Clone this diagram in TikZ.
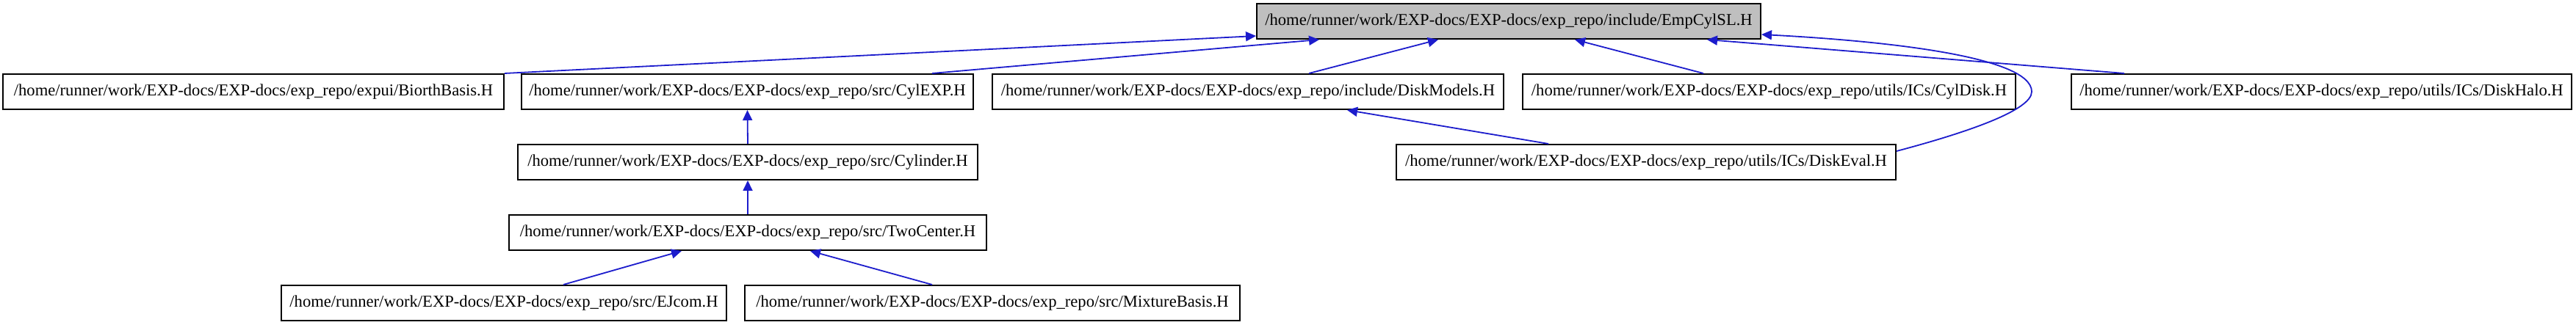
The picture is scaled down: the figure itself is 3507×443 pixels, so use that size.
\documentclass[tikz,border=0pt]{standalone}
\usepackage{fontspec}
\setmainfont{Liberation Serif}
\usetikzlibrary{arrows.meta}
\definecolor{edgeblue}{RGB}{28, 28, 204}
\definecolor{focusgray}{RGB}{191, 191, 191}

\begin{document}
\begin{tikzpicture}[x=0.5pt, y=-0.5pt,
	filebox/.style={draw=black, line width=1pt, fill=white, minimum height=24pt, inner sep=0pt, font=\fontsize{11.3}{13.5}\selectfont},
	incl/.style={draw=edgeblue, line width=0.9pt, -{Triangle[length=7pt, width=6.5pt, fill=edgeblue]}}]
	\useasboundingbox (0,0) rectangle (3507,443);
	% Grafo de inclusión de EmpCylSL.H
	\node[filebox, fill=focusgray, minimum width=343pt] (empcylsl) at (2054,29) {/home/runner/work/EXP-docs/EXP-docs/exp\_repo/include/EmpCylSL.H};
	\node[filebox, minimum width=341pt] (biorth) at (345,125) {/home/runner/work/EXP-docs/EXP-docs/exp\_repo/expui/BiorthBasis.H};
	\node[filebox, minimum width=307.5pt] (cylexp) at (1017.5,125) {/home/runner/work/EXP-docs/EXP-docs/exp\_repo/src/CylEXP.H};
	\node[filebox, minimum width=348pt] (diskmodels) at (1699,125) {/home/runner/work/EXP-docs/EXP-docs/exp\_repo/include/DiskModels.H};
	\node[filebox, minimum width=335.5pt] (cyldisk) at (2408.5,125) {/home/runner/work/EXP-docs/EXP-docs/exp\_repo/utils/ICs/CylDisk.H};
	\node[filebox, minimum width=340.5pt] (diskhalo) at (3160.5,125) {/home/runner/work/EXP-docs/EXP-docs/exp\_repo/utils/ICs/DiskHalo.H};
	\node[filebox, minimum width=313pt] (cylinder) at (1018,221) {/home/runner/work/EXP-docs/EXP-docs/exp\_repo/src/Cylinder.H};
	\node[filebox, minimum width=340pt] (diskeval) at (2241,221) {/home/runner/work/EXP-docs/EXP-docs/exp\_repo/utils/ICs/DiskEval.H};
	\node[filebox, minimum width=325pt] (twocenter) at (1018,317) {/home/runner/work/EXP-docs/EXP-docs/exp\_repo/src/TwoCenter.H};
	\node[filebox, minimum width=303pt] (ejcom) at (686,413) {/home/runner/work/EXP-docs/EXP-docs/exp\_repo/src/EJcom.H};
	\node[filebox, minimum width=337pt] (mixture) at (1351,413) {/home/runner/work/EXP-docs/EXP-docs/exp\_repo/src/MixtureBasis.H};

	\draw[incl] (biorth.north east) -- ([yshift=2.5pt]empcylsl.south west);
	\draw[incl] ([xshift=280pt]cylexp.north west) -- ([xshift=43pt]empcylsl.south west);
	\draw[incl] ([xshift=216pt]diskmodels.north west) -- ([xshift=124pt]empcylsl.south west);
	\draw[incl] ([xshift=123.5pt]cyldisk.north west) -- ([xshift=217pt]empcylsl.south west);
	\draw[incl] ([xshift=36.5pt]diskhalo.north west) -- ([xshift=307pt]empcylsl.south west);
	\draw[incl] ([yshift=-5pt]diskeval.north east) .. controls (2680,180) and (2766,150) .. (2766,125)
		.. controls (2766,75) and (2550,55) .. ([yshift=3.5pt]empcylsl.south east);
	\draw[incl] ([xshift=104pt]diskeval.north west) -- ([xshift=242pt]diskmodels.south west);
	\foreach \src/\dst in {cylinder/cylexp, twocenter/cylinder} {
		\draw[incl] (\src.north) -- (\dst.south);
	}
	\draw[incl] ([xshift=192.5pt]ejcom.north west) -- ([xshift=118pt]twocenter.south west);
	\draw[incl] ([xshift=128pt]mixture.north west) -- ([xshift=205.5pt]twocenter.south west);
\end{tikzpicture}
\end{document}
